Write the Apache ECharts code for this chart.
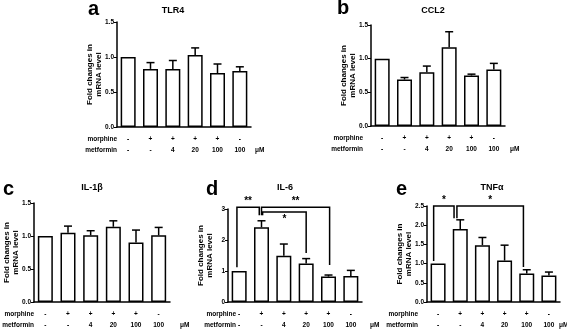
<!DOCTYPE html>
<html><head><meta charset="utf-8">
<script src="https://cdn.jsdelivr.net/npm/echarts@6/dist/echarts.min.js"></script>
<style>html,body{margin:0;padding:0;background:#fff}#c{width:567px;height:333px}</style>
</head><body><div id="c"></div>
<script>
// ---- data ----
const morphine = ['-', '+', '+', '+', '+', '-'];
const metformin = ['-', '-', '4', '20', '100', '100'];
const categories = morphine.map((m, i) => m + '|' + metformin[i]);

const tlr4 = [1.0, 0.83, 0.83, 1.03, 0.77, 0.80];
const tlr4Upper = [1.0, 0.92, 0.95, 1.13, 0.90, 0.86];
const ccl2 = [1.0, 0.69, 0.80, 1.17, 0.75, 0.84];
const ccl2Upper = [1.0, 0.72, 0.89, 1.40, 0.77, 0.93];
const il1b = [1.0, 1.05, 1.01, 1.14, 0.90, 1.01];
const il1bUpper = [1.0, 1.15, 1.08, 1.23, 1.09, 1.13];
const il6 = [1.0, 2.41, 1.49, 1.24, 0.82, 0.84];
const il6Upper = [1.0, 2.62, 1.87, 1.40, 0.87, 1.02];
const tnfa = [1.0, 1.90, 1.48, 1.08, 0.74, 0.69];
const tnfaUpper = [1.0, 2.14, 1.68, 1.48, 0.84, 0.78];

const titles = ['TLR4', 'CCL2', 'IL-1β', 'IL-6', 'TNFα'];
const letters = ['a', 'b', 'c', 'd', 'e'];
const yMax = [1.5, 1.5, 1.5, 3, 2.5];
const yStep = [0.5, 0.5, 0.5, 1, 0.5];
const yDecimals = [1, 1, 1, 0, 1];
const yName = 'Fold changes in\nmRNA level';
const rowNames = ['morphine', 'metformin'];
const unit = 'μM';

// brackets: [xStart, xEnd, yTop, yLeftEnd, yRightEnd, label, labelBelow]
const il6Brackets = [
  [-0.1, 0.9, 3.06, 1.12, 2.8, '**', false],
  [1.0, 4.05, 3.06, 2.8, 1.19, '**', false],
  [1.05, 3.0, 2.9, 2.8, 1.58, '*', true]
];
const tnfaBrackets = [
  [-0.2, 0.72, 2.5, 1.07, 2.18, '*', false],
  [0.85, 3.85, 2.5, 2.18, 0.91, '*', false]
];

const values = [tlr4, ccl2, il1b, il6, tnfa];
const uppers = [tlr4Upper, ccl2Upper, il1bUpper, il6Upper, tnfaUpper];
const brackets = [[], [], [], il6Brackets, tnfaBrackets];

// ---- layout ----
const grids = [
  {left: 117, top: 22, width: 134, height: 105},
  {left: 371, top: 25, width: 134, height: 101},
  {left: 34, top: 203, width: 136, height: 99},
  {left: 228, top: 209, width: 134, height: 93},
  {left: 427, top: 206, width: 133, height: 96}
];
const letterPos = [[88, 9], [337, 8], [3, 189], [206, 189], [396, 189]];
const titlePos = [[173, 11], [433, 11], [92, 188], [285, 188], [492, 188]];
const rowLabelX = [117, 363, 34, 236, 418];
const unitX = [255, 510, 180, 370, 559];

const FONT = '"Liberation Sans", Arial, sans-serif';
const BLACK = '#000';

const option = {
  animation: false,
  backgroundColor: '#fff',
  grid: grids.map(g => Object.assign({containLabel: false}, g)),
  xAxis: grids.map((g, k) => ({
    type: 'category', gridIndex: k, data: categories,
    axisLine: {lineStyle: {color: BLACK, width: 1.5}},
    axisTick: {alignWithLabel: true, length: 3, lineStyle: {color: BLACK, width: 1}},
    axisLabel: {
      margin: 6, color: BLACK, fontSize: 6.5, fontWeight: 'bold', fontFamily: FONT, lineHeight: 11.5,
      interval: 0,
      formatter: (v, i) => morphine[i] + '\n' + metformin[i]
    }
  })),
  yAxis: grids.map((g, k) => ({
    type: 'value', gridIndex: k, min: 0, max: yMax[k], interval: yStep[k],
    name: yName, nameLocation: 'middle', nameRotate: 90, nameGap: 14, nameMoveOverlap: false,
    nameTextStyle: {color: BLACK, fontSize: 8, fontWeight: 'bold', fontFamily: FONT, lineHeight: 8.5},
    axisLine: {show: true, lineStyle: {color: BLACK, width: 1.5}},
    axisTick: {show: true, length: 3, lineStyle: {color: BLACK, width: 1}},
    splitLine: {show: false},
    axisLabel: {margin: 3, color: BLACK, fontSize: 6.5, fontWeight: 'bold', fontFamily: FONT,
      formatter: v => v.toFixed(yDecimals[k])}
  })),
  series: [],
  graphic: []
};

values.forEach((vals, k) => {
  option.series.push({
    type: 'bar', xAxisIndex: k, yAxisIndex: k, data: vals, barWidth: 15,
    itemStyle: {color: '#fff', borderColor: BLACK, borderWidth: 1.5},
    silent: true
  });
  option.series.push({
    type: 'custom', xAxisIndex: k, yAxisIndex: k, silent: true,
    data: vals.map((v, i) => [i, v, uppers[k][i]]),
    renderItem: (params, api) => {
      const i = api.value(0), v = api.value(1), u = api.value(2);
      if (u <= v) return;
      const p0 = api.coord([i, v]), p1 = api.coord([i, u]);
      const cap = 4;
      return {type: 'group', children: [
        {type: 'line', shape: {x1: p0[0], y1: p0[1], x2: p1[0], y2: p1[1]}, style: {stroke: BLACK, lineWidth: 1.5}},
        {type: 'line', shape: {x1: p1[0] - cap, y1: p1[1], x2: p1[0] + cap, y2: p1[1]}, style: {stroke: BLACK, lineWidth: 1.5}}
      ]};
    }
  });
  if (brackets[k].length) {
    option.series.push({
      type: 'custom', xAxisIndex: k, yAxisIndex: k, silent: true, clip: false,
      data: brackets[k].map(b => [b[0], b[1], b[2], b[3], b[4]]),
      renderItem: (params, api) => {
        const b = brackets[k][params.dataIndex];
        const x0 = api.coord([0, 0])[0];
        const band = api.size([1, 0])[0];
        const px = x => x0 + x * band;
        const py = y => api.coord([0, y])[1];
        const xa = px(b[0]), xb = px(b[1]);
        const yt = py(b[2]);
        return {type: 'group', children: [
          {type: 'polyline', shape: {points: [[xa, py(b[3])], [xa, yt], [xb, yt], [xb, py(b[4])]]},
            style: {stroke: BLACK, lineWidth: 1.5, fill: null}},
          {type: 'text', x: (xa + xb) / 2, y: b[6] ? yt + 2 : yt - 0.5,
            style: {text: b[5], fill: BLACK, font: 'bold 10px ' + FONT, align: 'center',
              verticalAlign: b[6] ? 'top' : 'bottom'}}
        ]};
      }
    });
  }
  const g = grids[k];
  const bottom = g.top + g.height;
  option.graphic.push(
    {type: 'text', x: letterPos[k][0], y: letterPos[k][1],
      style: {text: letters[k], fill: BLACK, font: 'bold 20px ' + FONT, align: 'left', verticalAlign: 'middle'}},
    {type: 'text', x: titlePos[k][0], y: titlePos[k][1],
      style: {text: titles[k], fill: BLACK, font: 'bold 9px ' + FONT, align: 'center', verticalAlign: 'middle'}},
    {type: 'text', x: rowLabelX[k], y: bottom + 12,
      style: {text: rowNames[0], fill: BLACK, font: 'bold 6.5px ' + FONT, align: 'right', verticalAlign: 'middle'}},
    {type: 'text', x: rowLabelX[k], y: bottom + 23.5,
      style: {text: rowNames[1], fill: BLACK, font: 'bold 6.5px ' + FONT, align: 'right', verticalAlign: 'middle'}},
    {type: 'text', x: unitX[k], y: bottom + 23.5,
      style: {text: unit, fill: BLACK, font: 'bold 6.5px ' + FONT, align: 'left', verticalAlign: 'middle'}}
  );
});

const chart = echarts.init(document.getElementById('c'), null, {renderer: 'canvas'});
chart.setOption(option);
</script>
</body></html>
